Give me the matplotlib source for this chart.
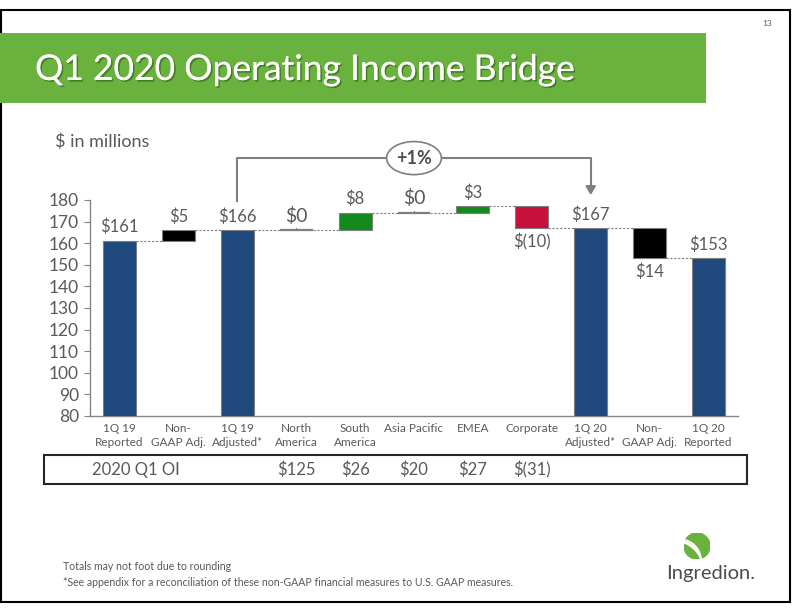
import matplotlib
matplotlib.use("Agg")
import matplotlib.pyplot as plt
import matplotlib.patches as mpatches
import matplotlib.patheffects as pe
from matplotlib.transforms import blended_transform_factory
import numpy as np

plt.rcParams['font.family'] = ['Lato', 'DejaVu Sans']

# ---------------- data ----------------
categories = ["1Q 19\nReported", "Non-\nGAAP Adj.", "1Q 19\nAdjusted*", "North\nAmerica",
              "South\nAmerica", "Asia Pacific", "EMEA", "Corporate", "1Q 20\nAdjusted*",
              "Non-\nGAAP Adj.", "1Q 20\nReported"]
values = [161, 5, 166, 0, 8, 0, 3, -10, 167, -14, 153]
kinds = ["total", "delta", "total", "delta", "delta", "delta", "delta", "delta", "total", "delta", "total"]
labels = ["$161", "$5", "$166", "$0", "$8", "$0", "$3", "$(10)", "$167", "$14", "$153"]
label_side = ["above", "above", "above", "above", "above", "above", "above", "below", "above", "below", "above"]
bar_colors = ["#1F497D", "#000000", "#1F497D", "#7F7F7F", "#138A1E", "#7F7F7F", "#138A1E",
              "#C8103C", "#1F497D", "#000000", "#1F497D"]
table_title = "2020 Q1 OI"
table_values = ["", "", "", "$125", "$26", "$20", "$27", "$(31)", "", "", ""]
yticks = [80, 90, 100, 110, 120, 130, 140, 150, 160, 170, 180]
bridge_text = "+1%"

GRAY = "#595959"

fig = plt.figure(figsize=(7.92, 6.12), dpi=100)

# slide border
fig.patches.append(mpatches.Rectangle((1/792, 1-602/612), 789/792, 592/612, transform=fig.transFigure,
                                      fill=False, edgecolor="black", linewidth=1.5, zorder=0))
# title banner
fig.patches.append(mpatches.Rectangle((0, 1-103/612), 706/792, 70/612, transform=fig.transFigure,
                                      facecolor="#6AB23E", edgecolor="none", zorder=0))
fig.text(35/792, 1-70/612, "Q1 2020 Operating Income Bridge", color="white", fontsize=25.5,
         va="center", ha="left",
         path_effects=[pe.withSimplePatchShadow(offset=(1.2, -1.2), shadow_rgbFace="#2f5a18", alpha=0.6),
                       pe.Normal()])
fig.text(767/792, 1-23/612, "13", color=GRAY, fontsize=6, ha="center", va="center")
fig.text(55/792, 1-142/612, "$ in millions", color=GRAY, fontsize=13, ha="left", va="center")

ax = fig.add_axes([90/792, 1-416/612, 648/792, 216/612])
x = np.arange(len(categories))
w = 0.56

level = 0
tops = []
bottoms = []
for i, (v, k) in enumerate(zip(values, kinds)):
    if k == "total":
        b, h = 0, v
        level = v
    else:
        b = min(level, level + v)
        h = abs(v)
        level = level + v
    bottoms.append(b)
    tops.append(b + h)
    if h == 0:
        ax.plot([x[i]-w/2, x[i]+w/2], [b, b], color=bar_colors[i], lw=1.6, zorder=3, solid_capstyle="butt")
        ax.plot([x[i], x[i]], [b, b + 0.9], color=bar_colors[i], lw=0.8, zorder=3)
    else:
        ax.bar(x[i], h, bottom=b, width=w, color=bar_colors[i], edgecolor="#7F7F7F", linewidth=0.8, zorder=3)

# connectors
level = 0
levels = []
for v, k in zip(values, kinds):
    level = v if k == "total" else level + v
    levels.append(level)
for i in range(len(x) - 1):
    ax.plot([x[i] + w/2, x[i+1] - w/2], [levels[i], levels[i]], color="#7F7F7F", lw=0.8,
            ls=(0, (2, 1.5)), zorder=2)

# value labels
for i in range(len(x)):
    fs = 14 if labels[i] == "$0" else 12
    if label_side[i] == "above":
        ax.annotate(labels[i], (x[i], tops[i]), xytext=(0, 4), textcoords="offset points",
                    ha="center", va="bottom", color=GRAY, fontsize=fs, annotation_clip=False)
    else:
        ax.annotate(labels[i], (x[i], bottoms[i]), xytext=(0, -4), textcoords="offset points",
                    ha="center", va="top", color=GRAY, fontsize=fs, annotation_clip=False)

ax.set_xlim(-0.5, len(x) - 0.5)
ax.set_ylim(80, 180)
ax.set_yticks(yticks)
ax.set_xticks(x)
ax.set_xticklabels(categories, fontsize=8.5, color=GRAY, linespacing=1.3)
ax.tick_params(axis="x", length=0, pad=5)
ax.tick_params(axis="y", length=4, color="#868686", labelsize=12.5, labelcolor=GRAY, pad=4)
for s in ["top", "right"]:
    ax.spines[s].set_visible(False)
for s in ["left", "bottom"]:
    ax.spines[s].set_color("#868686")
    ax.spines[s].set_linewidth(1)

# bridge bracket
by = 199.4
bc = "#7F7F7F"
ax.plot([2, 2, 4.53], [179.7, by, by], color=bc, lw=1.5, clip_on=False)
ax.plot([5.47, 8, 8], [by, by, 186], color=bc, lw=1.5, clip_on=False)
ax.annotate("", xy=(8, 181), xytext=(8, 186.5), annotation_clip=False,
            arrowprops=dict(arrowstyle="-|>,head_length=0.5,head_width=0.3", color=bc, lw=1.5))
ax.add_patch(mpatches.Ellipse((5, by), 0.93, 15.3, fill=False, edgecolor=bc, lw=1.2, clip_on=False))
ax.text(5, by, bridge_text, ha="center", va="center", fontsize=13, color="#4D4D4D", fontweight="bold")

# table row
fig.patches.append(mpatches.Rectangle((44/792, 1-484/612), 703/792, 29/612, transform=fig.transFigure,
                                      fill=False, edgecolor="#262626", linewidth=1.5))
trans = blended_transform_factory(ax.transData, fig.transFigure)
fig.text(92/792, 1-470/612, table_title, ha="left", va="center", fontsize=12, color=GRAY)
for i, tv in enumerate(table_values):
    if tv:
        ax.text(x[i], 1-470/612, tv, transform=trans, ha="center", va="center", fontsize=12, color=GRAY)

# footnotes
fig.text(63/792, 1-567/612, "Totals may not foot due to rounding", fontsize=7.6, color=GRAY, ha="left", va="center")
fig.text(63/792, 1-582/612, "*See appendix for a reconciliation of these non-GAAP financial measures to U.S. GAAP measures.",
         fontsize=7.6, color=GRAY, ha="left", va="center")

# logo
lax = fig.add_axes([684/792, 1-559/612, 26/792, 26/612])
lax.set_xlim(-1, 1); lax.set_ylim(-1, 1); lax.set_aspect("equal"); lax.axis("off")
lax.add_patch(mpatches.Circle((0, 0), 1, color="#6AB23E"))
for r, c in [(1.6, (-1.3, -1.1)), (1.9, (-1.5, -1.5)), (2.3, (-1.8, -1.9))]:
    lax.add_patch(mpatches.Arc(c, 2*r, 2*r, theta1=10, theta2=80, color="white", lw=1.3))
fig.text(711/792, 1-574/612, "Ingredion.", fontsize=14.5, color="#4D4D4D", ha="center", va="center")

fig.savefig("out.png", dpi=100)
